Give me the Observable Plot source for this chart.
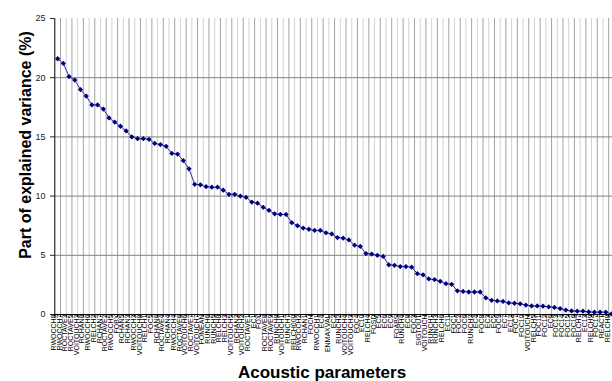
<!DOCTYPE html>
<html>
<head>
<meta charset="utf-8">
<script src="https://cdn.jsdelivr.net/npm/d3@7"></script>
<script src="https://cdn.jsdelivr.net/npm/@observablehq/plot@0.6"></script>
<style>
  html, body { margin: 0; padding: 0; background: white; overflow: hidden; width: 612px; height: 381px; }
  #chart { width: 612px; height: 381px; overflow: hidden; position: relative; }
</style>
</head>
<body>
<div id="chart"></div>
<script>
// Acoustic parameter names (x categories), in order of decreasing explained variance
const parameters = [
  "RWOCCH8","RWOCCH7","ROCTAVE3","ROCTAVE5","VOITOUCH3","RCHAN8","RWOCCH6","RELCH2","RCHAN7","ROCTAVE2",
  "RWOCCH5","FOBX","RCHAN5","RCHAN3","RWOCCH3","VOITOUCH8","RELCH1","FOC5","RCHAN6","ROCTAVE4",
  "RCHAN4","RWOCCH4","ROCTAVE6","VOITOUCH6","ROCTAVE7","VOITOUCH7","FOMEAN","RUNCH6","RUNCH5","RELCH8",
  "RELCH3","VOITOUCH5","RCHAN2","VOITOUCH2","ROCTAVE1","EC1","FOX","ROCTAVE8","ROCTAVE9","RUNCH8",
  "VOITOUCH1","RUNCH7","RELCH000","RWOCCH2","RCHAN1","FOCH","RWOCCH1","EC4","ENMAXVAL","EC2",
  "RUNCH2","VOITOUCH4","VOITOUCH3","FOC4","EC10","RELCH4","FOSD","EC5","EC6","EC9",
  "FOABS","RUNCH4","EC8","FOC3","SIGTOUT","VOITOUCH","RUNCH1","RUNCH3","RELCH6","EC11",
  "FOC1","FOC2","FOC6","RUNCH2","EC4","FOC8","EC3","EC5","FOC9","EC7",
  "EC12","FOC7","FOC10","VOITOUCH","RELCH5","FOC11","FOC12","EC6","FOC13","FOC14",
  "FOC15","FOC16","RELCH7","EC13","RELCH9","FOC17","REACT","RELCH8"
];

// Part of explained variance (%)
const variance = [
  21.6,21.2,20.1,19.8,19.0,18.45,17.7,17.7,17.35,16.6,
  16.25,15.9,15.5,15.0,14.85,14.85,14.8,14.45,14.35,14.2,
  13.6,13.55,13.0,12.3,11.0,10.95,10.8,10.75,10.75,10.5,
  10.15,10.15,10.0,9.9,9.5,9.4,9.05,8.8,8.5,8.45,
  8.45,7.75,7.5,7.3,7.2,7.1,7.1,6.9,6.8,6.5,
  6.45,6.3,5.85,5.75,5.15,5.1,5.0,4.9,4.2,4.15,
  4.05,4.05,4.0,3.45,3.35,3.0,2.95,2.8,2.6,2.55,
  2.0,1.95,1.9,1.9,1.9,1.4,1.2,1.15,1.1,0.98,
  0.95,0.9,0.8,0.72,0.72,0.7,0.65,0.6,0.5,0.37,
  0.3,0.28,0.28,0.22,0.2,0.2,0.2,0.05
];

const yTicks = [0, 5, 10, 15, 20, 25];
const yGrid = [5, 10, 15, 20];

const data = parameters.map((name, i) => ({index: i + 1, name, value: variance[i]}));
const n = data.length;
// category boundaries (between consecutive categories)
const bounds = d3.range(0, n + 1).map(k => k + 0.5);
const boundsDark = bounds.filter((b, k) => k % 2 === 1);
const boundsLight = bounds.filter((b, k) => k % 2 === 0 && k > 0);

const chart = Plot.plot({
  width: 612,
  height: 381,
  marginLeft: 54,
  marginRight: 0,
  marginTop: 18,
  marginBottom: 67,
  style: {fontFamily: "'Liberation Sans', Arial, sans-serif", fontSize: "9px", background: "white", color: "#222"},
  x: {type: "linear", domain: [0.5, n + 0.5], range: [54.3, 54.3 + n * 5.71], axis: null},
  y: {domain: [0, 25], ticks: yTicks, tickSize: 4, tickPadding: 5, label: null, line: false},
  marks: [
    Plot.ruleX(boundsLight, {x: d => d, y1: 0, y2: 25, stroke: "#d2d2d2", strokeWidth: 1}),
    Plot.ruleX(boundsDark, {x: d => d, y1: 0, y2: 25, stroke: "#a3a3a3", strokeWidth: 1}),
    Plot.ruleY(yGrid, {stroke: "#808080", strokeWidth: 1}),
    Plot.ruleX(bounds, {x: d => d, y1: 0, y2: 0, insetBottom: -3, stroke: "black"}),
    Plot.ruleY([0], {stroke: "black"}),
    Plot.ruleX([0.5], {y1: 0, y2: 25, stroke: "black"}),
    Plot.line(data, {x: "index", y: "value", stroke: "#3030a0", strokeWidth: 1}),
    Plot.dot(data, {x: "index", y: "value", symbol: "square", rotate: 45, r: 2.1, fill: "#000080", stroke: "none"}),
    Plot.text(data, {x: "index", text: "name", frameAnchor: "bottom", rotate: -90, textAnchor: "end", lineAnchor: "middle", dx: -4, fontSize: 7, fill: "black"})
  ]
});

const svg = d3.select(chart);
svg.append("text")
  .attr("transform", "translate(27,145) rotate(-90)")
  .attr("text-anchor", "middle")
  .attr("dominant-baseline", "middle")
  .style("font-family", "'Liberation Sans', Arial, sans-serif")
  .style("font-weight", "bold")
  .style("font-size", "16px")
  .attr("fill", "black")
  .text("Part of explained variance (%)");
svg.append("text")
  .attr("x", 322)
  .attr("y", 378)
  .attr("text-anchor", "middle")
  .style("font-family", "'Liberation Sans', Arial, sans-serif")
  .style("font-weight", "bold")
  .style("font-size", "17px")
  .attr("fill", "black")
  .text("Acoustic parameters");

document.getElementById("chart").appendChild(chart);
</script>
</body>
</html>
